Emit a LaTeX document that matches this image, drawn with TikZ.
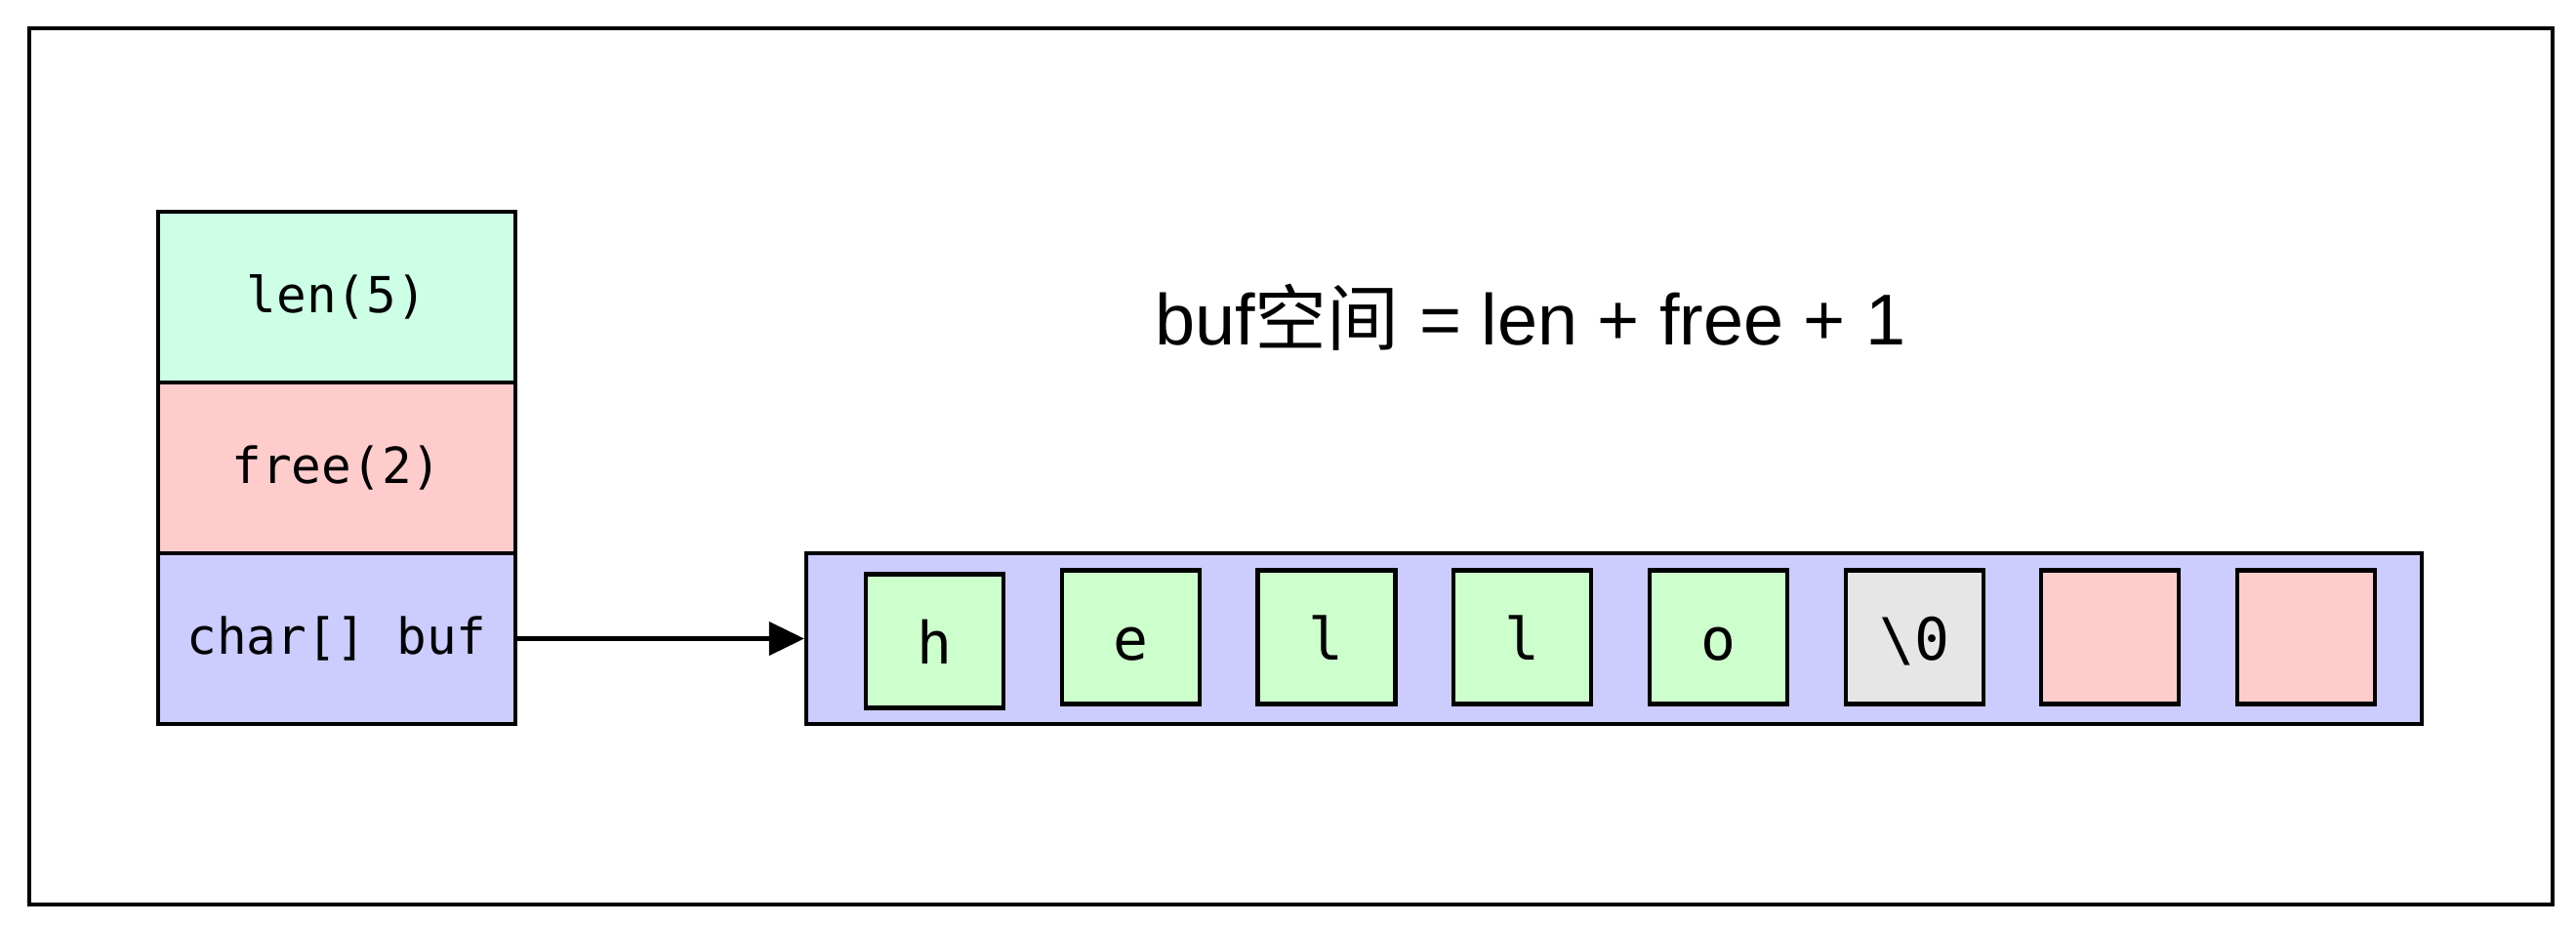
\documentclass[tikz,border=0pt]{standalone}
\usepackage{fontspec}
\setsansfont{Liberation Sans}
\setmonofont{DejaVu Sans Mono}
\newfontfamily\cjk{Noto Sans CJK SC}
\usepackage{tikz}
\usetikzlibrary{positioning,arrows.meta}
\definecolor{lenmint}{RGB}{204,255,230}
\definecolor{freepink}{RGB}{255,204,204}
\definecolor{buflilac}{RGB}{204,204,255}
\definecolor{charmint}{RGB}{204,255,204}
\definecolor{nulgray}{RGB}{230,230,230}

\begin{document}
\begin{tikzpicture}[node distance=0.555cm,
    field/.style={rectangle, draw, line width=1.2pt, outer sep=0pt, fill=#1, minimum width=3.66cm, minimum height=1.75cm, font=\ttfamily\fontsize{14.5}{17}\selectfont},
    slot/.style={rectangle, draw, line width=1.2pt, fill=#1, minimum width=1.41cm, minimum height=1.37cm, inner sep=0pt, text height=0.46cm, text depth=0pt, font=\ttfamily\fontsize{17}{20}\selectfont},
    arr/.style={-{Triangle[length=0.36cm, width=0.34cm]}, line width=1.2pt}]

    \useasboundingbox (0,0) rectangle (26.39,-9.47);
    \draw[line width=1.2pt] (0.30,-0.29) rectangle (26.15,-9.27);

    \node[field=lenmint] (len) at (3.45,-3.045) {len(5)};
    \node[field=freepink, below=0pt of len] (free) {free(2)};
    \node[field=buflilac, below=0pt of free] (buf) {char[] buf};

    \node[font=\sffamily\fontsize{21}{25}\selectfont, anchor=base] (formula) at (15.68,-3.53) {buf{\cjk 空间} = len + free + 1};

    \node[rectangle, draw, line width=1.2pt, fill=buflilac, minimum width=16.55cm, minimum height=1.75cm] (bufspace) at (16.535,-6.545) {};

    \node[slot=charmint] (c1) at (9.575,-6.57) {h};
    \node[slot=charmint, right=of c1, yshift=0.04cm] (c2) {e};
    \node[slot=charmint, right=of c2] (c3) {l};
    \node[slot=charmint, right=of c3] (c4) {l};
    \node[slot=charmint, right=of c4] (c5) {o};
    \node[slot=nulgray, right=of c5] (c6) {\textbackslash 0};
    \node[slot=freepink, right=of c6] (c7) {};
    \node[slot=freepink, right=of c7] (c8) {};

    \draw[arr] (buf) -- (bufspace);
\end{tikzpicture}
\end{document}
